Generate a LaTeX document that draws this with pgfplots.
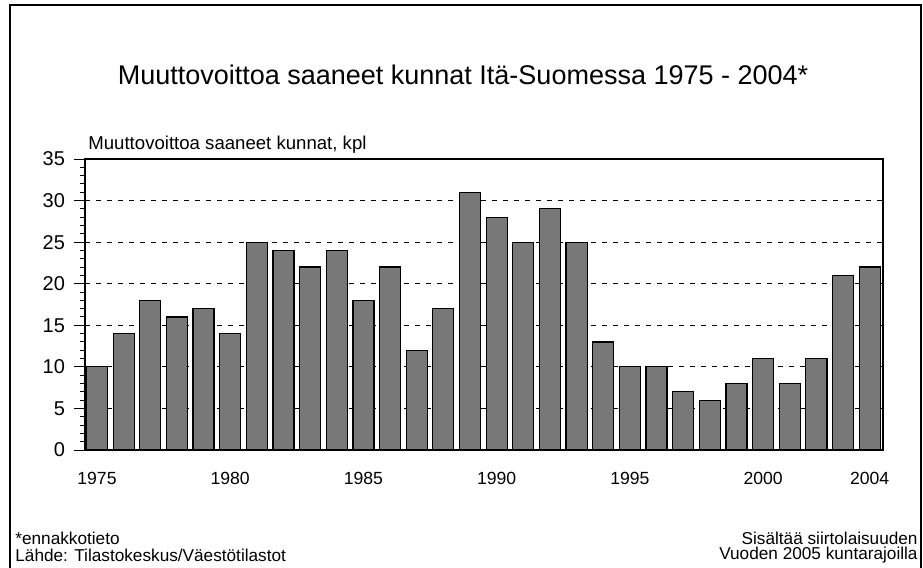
\documentclass[border=0pt]{standalone}
\usepackage{pgfplots}
\pgfplotsset{compat=1.18}
\usepackage{fontspec}
\setmainfont{Liberation Sans}
\begin{document}
\begin{tikzpicture}
\path[use as bounding box] (0,0) rectangle (461.5bp,-284bp);
\draw[line width=0.6bp] (5bp,-284bp) -- (5bp,-2.5bp) -- (460.5bp,-2.5bp) -- (460.5bp,-284bp);
\node[font=\fontsize{13.5bp}{15bp}\selectfont] at (231.5bp,-37.5bp) {Muuttovoittoa saaneet kunnat Itä-Suomessa 1975 - 2004*};
\node[font=\fontsize{9.3bp}{10bp}\selectfont, anchor=south west, inner sep=0pt] at (44bp,-77bp) {Muuttovoittoa saaneet kunnat, kpl};
\begin{axis}[
  at={(42.5bp,-225bp)}, anchor=south west,
  scale only axis, width=399bp, height=145.5bp,
  xmin=1974.55, xmax=2004.5, ymin=0, ymax=35,
  ytick={0,5,...,35}, minor ytick={0,1,...,35},
  xtick={1975,1980,1985,1990,1995,2000,2004},
  xticklabels={1975,1980,1985,1990,1995,2000,2004},
  x tick style={draw=none},
  y tick style={black, line width=0.5bp},
  tick align=outside, major tick length=5.5bp, minor tick length=2.5bp,
  ytick pos=left,
  ymajorgrids, grid style={black, line width=0.4bp, dash pattern=on 2.5bp off 3bp},
  axis line style={black, line width=0.7bp},
  yticklabel style={font=\fontsize{10bp}{11bp}\selectfont, xshift=-1bp},
  xticklabel style={font=\fontsize{8.8bp}{10bp}\selectfont, yshift=-2bp},
  /pgf/number format/assume math mode=true,
  ybar, bar width=0.79,
]
\addplot[fill={rgb,255:red,120;green,120;blue,120}, draw=black, line width=0.6bp] coordinates {
(1975,10) (1976,14) (1977,18) (1978,16) (1979,17) (1980,14)
(1981,25) (1982,24) (1983,22) (1984,24) (1985,18) (1986,22)
(1987,12) (1988,17) (1989,31) (1990,28) (1991,25) (1992,29)
(1993,25) (1994,13) (1995,10) (1996,10) (1997,7) (1998,6)
(1999,8) (2000,11) (2001,8) (2002,11) (2003,21) (2004,22)
};
\end{axis}
\node[font=\fontsize{8.6bp}{10bp}\selectfont, anchor=west, inner sep=0pt] at (7.5bp,-269bp) {*ennakkotieto};
\node[font=\fontsize{8.6bp}{10bp}\selectfont, anchor=west, inner sep=0pt] at (7.5bp,-277.5bp) {Lähde: Tilastokeskus/Väestötilastot};
\node[font=\fontsize{8.6bp}{10bp}\selectfont, anchor=east, inner sep=0pt] at (459bp,-269bp) {Sisältää siirtolaisuuden};
\node[font=\fontsize{8.6bp}{10bp}\selectfont, anchor=east, inner sep=0pt] at (459bp,-277.5bp) {Vuoden 2005 kuntarajoilla};
\end{tikzpicture}
\end{document}
